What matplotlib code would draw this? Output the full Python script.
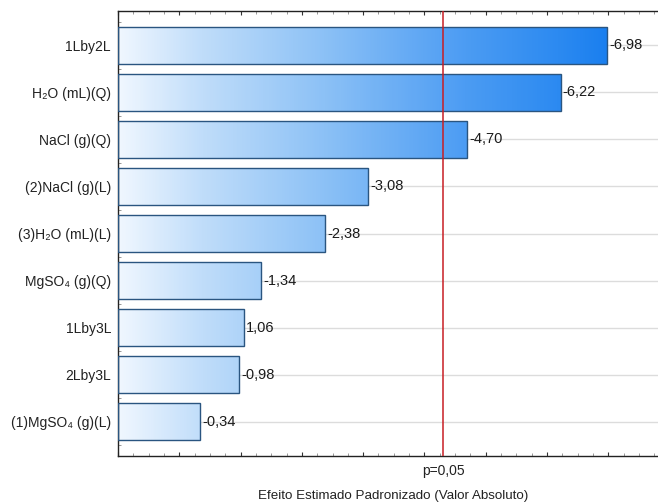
import numpy as np
import matplotlib
matplotlib.use("Agg")
import matplotlib.pyplot as plt
from matplotlib.colors import LinearSegmentedColormap, Normalize
from matplotlib.ticker import MultipleLocator, NullFormatter

plt.rcParams['font.family'] = ['Liberation Sans', 'DejaVu Sans']

labels = ["1Lby2L", "H₂O (mL)(Q)", "NaCl (g)(Q)", "(2)NaCl (g)(L)", "(3)H₂O (mL)(L)",
          "MgSO₄ (g)(Q)", "1Lby3L", "2Lby3L", "(1)MgSO₄ (g)(L)"]
values = [6.98, 6.22, 4.70, 3.08, 2.38, 1.34, 1.06, 0.98, 0.34]
value_text = ["-6,98", "-6,22", "-4,70", "-3,08", "-2,38", "-1,34", "1,06", "-0,98", "-0,34"]
p_crit = 4.303
p_label = "p=0,05"
xlabel = "Efeito Estimado Padronizado (Valor Absoluto)"

xmin, xmax = -1.0, 7.81

fig = plt.figure(figsize=(6.58, 5.04), dpi=100)
ax = fig.add_axes([118/658, 1-456/504, 1-118/658, (456-11)/504])

y = np.arange(len(values))
vals = np.array(values)
bars = ax.barh(y, vals - xmin, left=xmin, height=0.8, facecolor='none',
               edgecolor='#2a5580', linewidth=1.0, zorder=3)

cmap = LinearSegmentedColormap.from_list('g', [(0.0, '#f0f7ff'), (0.17, '#c0ddfa'),
                                               (0.42, '#8cc1f6'), (0.71, '#4c9cf3'),
                                               (0.90, '#2c8af1'), (1.0, '#1a7fef')])
norm = Normalize(vmin=xmin, vmax=7.0)
for b in bars:
    x0, w = b.get_x(), b.get_width()
    y0, h = b.get_y(), b.get_height()
    grad = np.linspace(x0, x0 + w, 256).reshape(1, -1)
    im = ax.imshow(grad, extent=[x0, x0 + w, y0, y0 + h], cmap=cmap, norm=norm,
                   aspect='auto', interpolation='bilinear', zorder=2, origin='lower')
    im.set_clip_path(b)

for yi, v, t in zip(y, vals, value_text):
    ax.text(v + 0.03, yi, t, va='center', ha='left', fontsize=10.5, color='#1a1a1a', zorder=4)

ax.axvline(p_crit, color='#c81e24', linewidth=1.1, zorder=5)

ax.set_xlim(xmin, xmax)
ax.set_ylim(len(values) - 1 + 0.73, -0.73)
ax.set_yticks(y)
ax.set_yticklabels(labels, fontsize=10, color='#222222')
ax.yaxis.set_minor_locator(MultipleLocator(0.25))
ax.xaxis.set_major_locator(MultipleLocator(1))
ax.xaxis.set_minor_locator(MultipleLocator(0.25))
ax.xaxis.set_major_formatter(NullFormatter())
ax.tick_params(axis='both', which='major', direction='in', length=3, width=0.8, color='#333333')
ax.tick_params(axis='both', which='minor', direction='in', length=2, width=0.6, color='#888888')
ax.tick_params(axis='x', which='both', top=True, bottom=True)
ax.tick_params(axis='y', which='major', pad=5)

ax.grid(axis='y', which='major', color='#dcdcdc', linewidth=1.0, zorder=0)
ax.set_axisbelow(True)

for s in ['left', 'top', 'bottom']:
    ax.spines[s].set_color('#222222')
    ax.spines[s].set_linewidth(1.0)
ax.spines['right'].set_visible(False)

ax.text(p_crit, -0.018, p_label, transform=ax.get_xaxis_transform(), ha='center', va='top',
        fontsize=10, color='#222222')
fig.text(393/658, 1 - 496/504, xlabel, ha='center', va='center', fontsize=9.6, color='#222222')

fig.savefig("out.png", dpi=100)
